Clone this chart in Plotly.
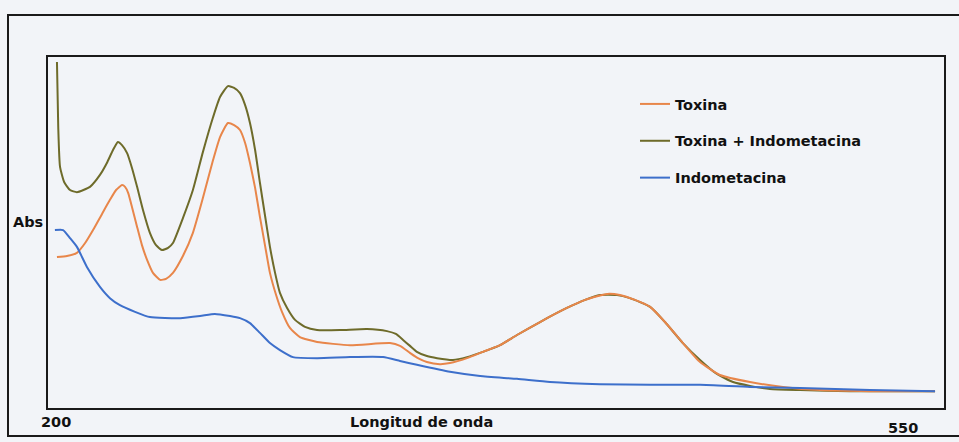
import plotly.graph_objects as go

# Wavelength (nm) and absorbance (arbitrary units)
wl_mix = [203.5, 204.0, 204.7, 206.3, 208.6, 211.3, 216.4, 220.3, 223.0, 225.4, 227.3, 228.9,
          230.9, 232.8, 234.8, 237.1, 239.8, 242.2, 244.5, 246.9, 248.8, 252.7, 256.6, 260.5,
          264.5, 267.2, 270.3, 272.7, 275.0, 277.0, 278.9, 280.9, 282.8, 284.8, 286.7, 288.7,
          290.6, 293.4, 296.5, 300.4, 305.1, 314.1, 324.6, 332.4, 335.9, 338.7, 341.4, 344.1,
          348.0, 352.0, 358.2, 363.7, 369.9, 376.6, 383.2, 392.2, 402.7, 409.8, 415.6, 422.3,
          427.3, 435.2, 441.0, 448.0, 454.7, 461.3, 467.6, 474.2, 482.0, 493.8, 513.3, 532.8, 546.5]
abs_mix = [0.986, 0.800, 0.687, 0.644, 0.621, 0.615, 0.630, 0.664, 0.698, 0.735, 0.758, 0.749,
           0.726, 0.684, 0.630, 0.564, 0.499, 0.464, 0.450, 0.456, 0.470, 0.541, 0.621, 0.729,
           0.829, 0.886, 0.917, 0.912, 0.897, 0.863, 0.812, 0.735, 0.641, 0.547, 0.459, 0.385,
           0.328, 0.285, 0.251, 0.231, 0.222, 0.222, 0.225, 0.219, 0.211, 0.194, 0.177, 0.160,
           0.148, 0.142, 0.137, 0.145, 0.160, 0.179, 0.208, 0.245, 0.285, 0.308, 0.322, 0.322,
           0.313, 0.288, 0.245, 0.185, 0.137, 0.097, 0.074, 0.063, 0.054, 0.051, 0.048, 0.048, 0.048]

wl_tox = [203.5, 207.4, 211.3, 214.5, 217.6, 221.1, 224.2, 226.6, 228.9, 230.1, 231.3, 232.8,
          234.8, 236.7, 238.7, 241.0, 243.8, 246.1, 248.8, 252.7, 256.6, 260.5, 264.5, 267.2,
          270.3, 272.7, 275.0, 277.0, 278.9, 280.9, 282.8, 284.8, 286.7, 289.1, 291.4, 294.5,
          298.4, 305.1, 318.0, 333.6, 337.5, 341.4, 344.5, 348.0, 353.1, 357.0, 363.7, 369.9,
          376.6, 383.2, 392.2, 402.7, 409.8, 418.4, 423.4, 429.3, 435.2, 441.0, 448.0, 454.7,
          462.5, 474.2, 487.1, 501.6, 521.1, 546.5]
abs_tox = [0.430, 0.433, 0.442, 0.470, 0.507, 0.553, 0.593, 0.621, 0.635, 0.630, 0.613, 0.573,
           0.516, 0.464, 0.422, 0.385, 0.365, 0.368, 0.385, 0.433, 0.499, 0.598, 0.707, 0.772,
           0.812, 0.806, 0.792, 0.755, 0.698, 0.627, 0.544, 0.462, 0.385, 0.322, 0.274, 0.228,
           0.202, 0.188, 0.179, 0.185, 0.177, 0.157, 0.142, 0.131, 0.125, 0.128, 0.142, 0.160,
           0.179, 0.208, 0.245, 0.285, 0.308, 0.325, 0.322, 0.308, 0.288, 0.245, 0.185, 0.131,
           0.094, 0.074, 0.060, 0.051, 0.048, 0.048]

wl_indo = [202.7, 205.9, 208.6, 211.3, 215.2, 220.3, 224.2, 228.1, 234.0, 239.8, 251.6, 259.4,
           265.2, 271.1, 275.0, 278.9, 282.8, 286.7, 290.6, 295.7, 305.1, 318.0, 330.9, 337.5,
           344.1, 357.0, 368.8, 383.2, 396.1, 415.6, 435.2, 454.7, 474.2, 493.8, 521.1, 546.5]
abs_indo = [0.507, 0.507, 0.484, 0.459, 0.402, 0.345, 0.313, 0.293, 0.274, 0.259, 0.256, 0.262,
            0.268, 0.262, 0.256, 0.242, 0.214, 0.185, 0.165, 0.145, 0.142, 0.145, 0.145, 0.134,
            0.123, 0.103, 0.091, 0.083, 0.074, 0.068, 0.066, 0.066, 0.060, 0.057, 0.051, 0.048]

names = ["Toxina", "Toxina + Indometacina", "Indometacina"]
colors = ["#e8864a", "#6e6b2a", "#3d6fcb"]

BG = "#f2f4f8"
FONT = "DejaVu Sans"
FS = 14.5

fig = go.Figure()
fig.add_trace(go.Scatter(x=wl_mix, y=abs_mix, mode="lines", name=names[1],
                         line=dict(color=colors[1], width=2, shape="spline", smoothing=0.5),
                         legendrank=2, legendgroup="b"))
fig.add_trace(go.Scatter(x=wl_tox, y=abs_tox, mode="lines", name=names[0],
                         line=dict(color=colors[0], width=2, shape="spline", smoothing=0.5),
                         legendrank=1, legendgroup="a"))
fig.add_trace(go.Scatter(x=wl_indo, y=abs_indo, mode="lines", name=names[2],
                         line=dict(color=colors[2], width=2, shape="spline", smoothing=0.5),
                         legendrank=3, legendgroup="c"))

L, R, T, B = 48, 15, 57, 34
W, H = 959, 442
pw, ph = W - L - R, H - T - B

def px(xp):
    return (xp - L) / pw

def py(yp):
    return (H - B - yp) / ph

fig.update_layout(
    width=W, height=H,
    margin=dict(l=L, r=R, t=T, b=B),
    paper_bgcolor=BG, plot_bgcolor=BG,
    font=dict(family=FONT, size=FS, color="#111"),
    xaxis=dict(range=[200, 550], showticklabels=False, ticks="", showgrid=False, zeroline=False,
               showline=True, linecolor="#1a1a1a", linewidth=2, mirror=True),
    yaxis=dict(range=[0, 1], showticklabels=False, ticks="", showgrid=False, zeroline=False,
               showline=True, linecolor="#1a1a1a", linewidth=2, mirror=True),
    legend=dict(x=px(635), y=py(88), xanchor="left", yanchor="top", bgcolor="rgba(0,0,0,0)",
                font=dict(family=FONT, size=FS, color="#111", weight="bold"),
                tracegroupgap=15, itemwidth=30),
    showlegend=True,
)

fig.add_shape(type="rect", xref="paper", yref="paper",
              x0=px(8), x1=px(965), y0=py(436), y1=py(15),
              line=dict(color="#1a1a1a", width=2), layer="below")

def label(text, xp, yp):
    fig.add_annotation(text=text, xref="paper", yref="paper", x=px(xp), y=py(yp),
                       xanchor="center", yanchor="middle", showarrow=False,
                       font=dict(family=FONT, size=FS, color="#111", weight="bold"))

label("Abs", 28, 222)
label("200", 56, 422)
label("Longitud de onda", 421, 422)
label("550", 903, 428)

fig.write_html("out.html")
